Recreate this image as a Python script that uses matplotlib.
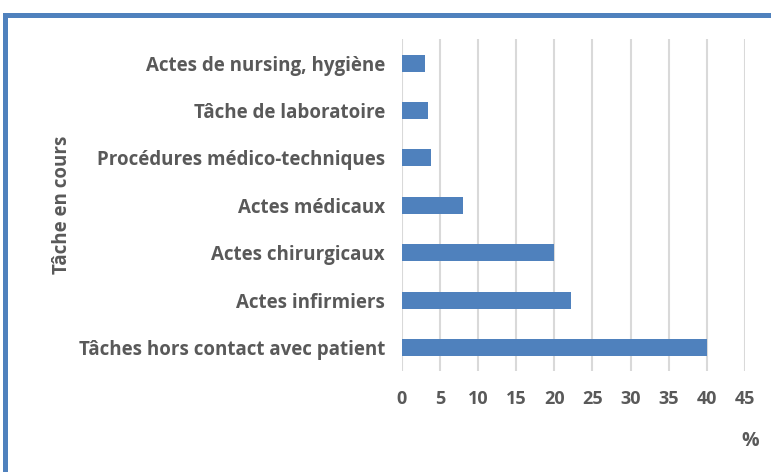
import matplotlib
matplotlib.use("Agg")
import matplotlib.pyplot as plt
from matplotlib.patches import Rectangle

# Data (bottom to top)
tasks = [
    "Tâches hors contact avec patient",
    "Actes infirmiers",
    "Actes chirurgicaux",
    "Actes médicaux",
    "Procédures médico-techniques",
    "Tâche de laboratoire",
    "Actes de nursing, hygiène",
]
percent = [40.0, 22.2, 20.0, 8.1, 3.8, 3.5, 3.0]
x_ticks = [0, 5, 10, 15, 20, 25, 30, 35, 40, 45]

bar_color = "#4F81BD"
text_color = "#595959"
plt.rcParams["font.family"] = ["Open Sans", "DejaVu Sans"]

fig = plt.figure(figsize=(7.71, 4.72), dpi=100)
ax = fig.add_axes([0.521, 0.213, 0.4453, 0.7037])

ax.barh(range(len(tasks)), percent, height=0.36, color=bar_color)
ax.set_ylim(-0.5, len(tasks) - 0.5)
ax.set_xlim(0, 45)
ax.set_xticks(x_ticks)
ax.set_yticks(range(len(tasks)))
ax.set_yticklabels(tasks, fontsize=13.5, fontweight="bold", color=text_color)
ax.set_xticklabels([str(t) for t in x_ticks], fontsize=13, fontweight="bold", color=text_color)
ax.tick_params(axis="both", length=0)
ax.tick_params(axis="y", pad=12)
ax.tick_params(axis="x", pad=13)

# Vertical gridlines, no frame
ax.grid(axis="x", color="#D9D9D9", linewidth=1.5)
ax.set_axisbelow(True)
for s in ax.spines.values():
    s.set_visible(False)

# Axis titles
fig.text(0.080, 0.566, "Tâche en cours", rotation=90, ha="center", va="center",
         fontsize=13.5, fontweight="bold", color=text_color)
fig.text(0.973, 0.065, "%", ha="center", va="center",
         fontsize=14, fontweight="bold", color=text_color)

# Blue frame around the chart (cropped on right and bottom)
fig.add_artist(Rectangle((0.0071, -0.1), 1.2, 1.069, transform=fig.transFigure,
                         fill=False, edgecolor=bar_color, linewidth=3.6))

fig.savefig("out.png", dpi=100)
